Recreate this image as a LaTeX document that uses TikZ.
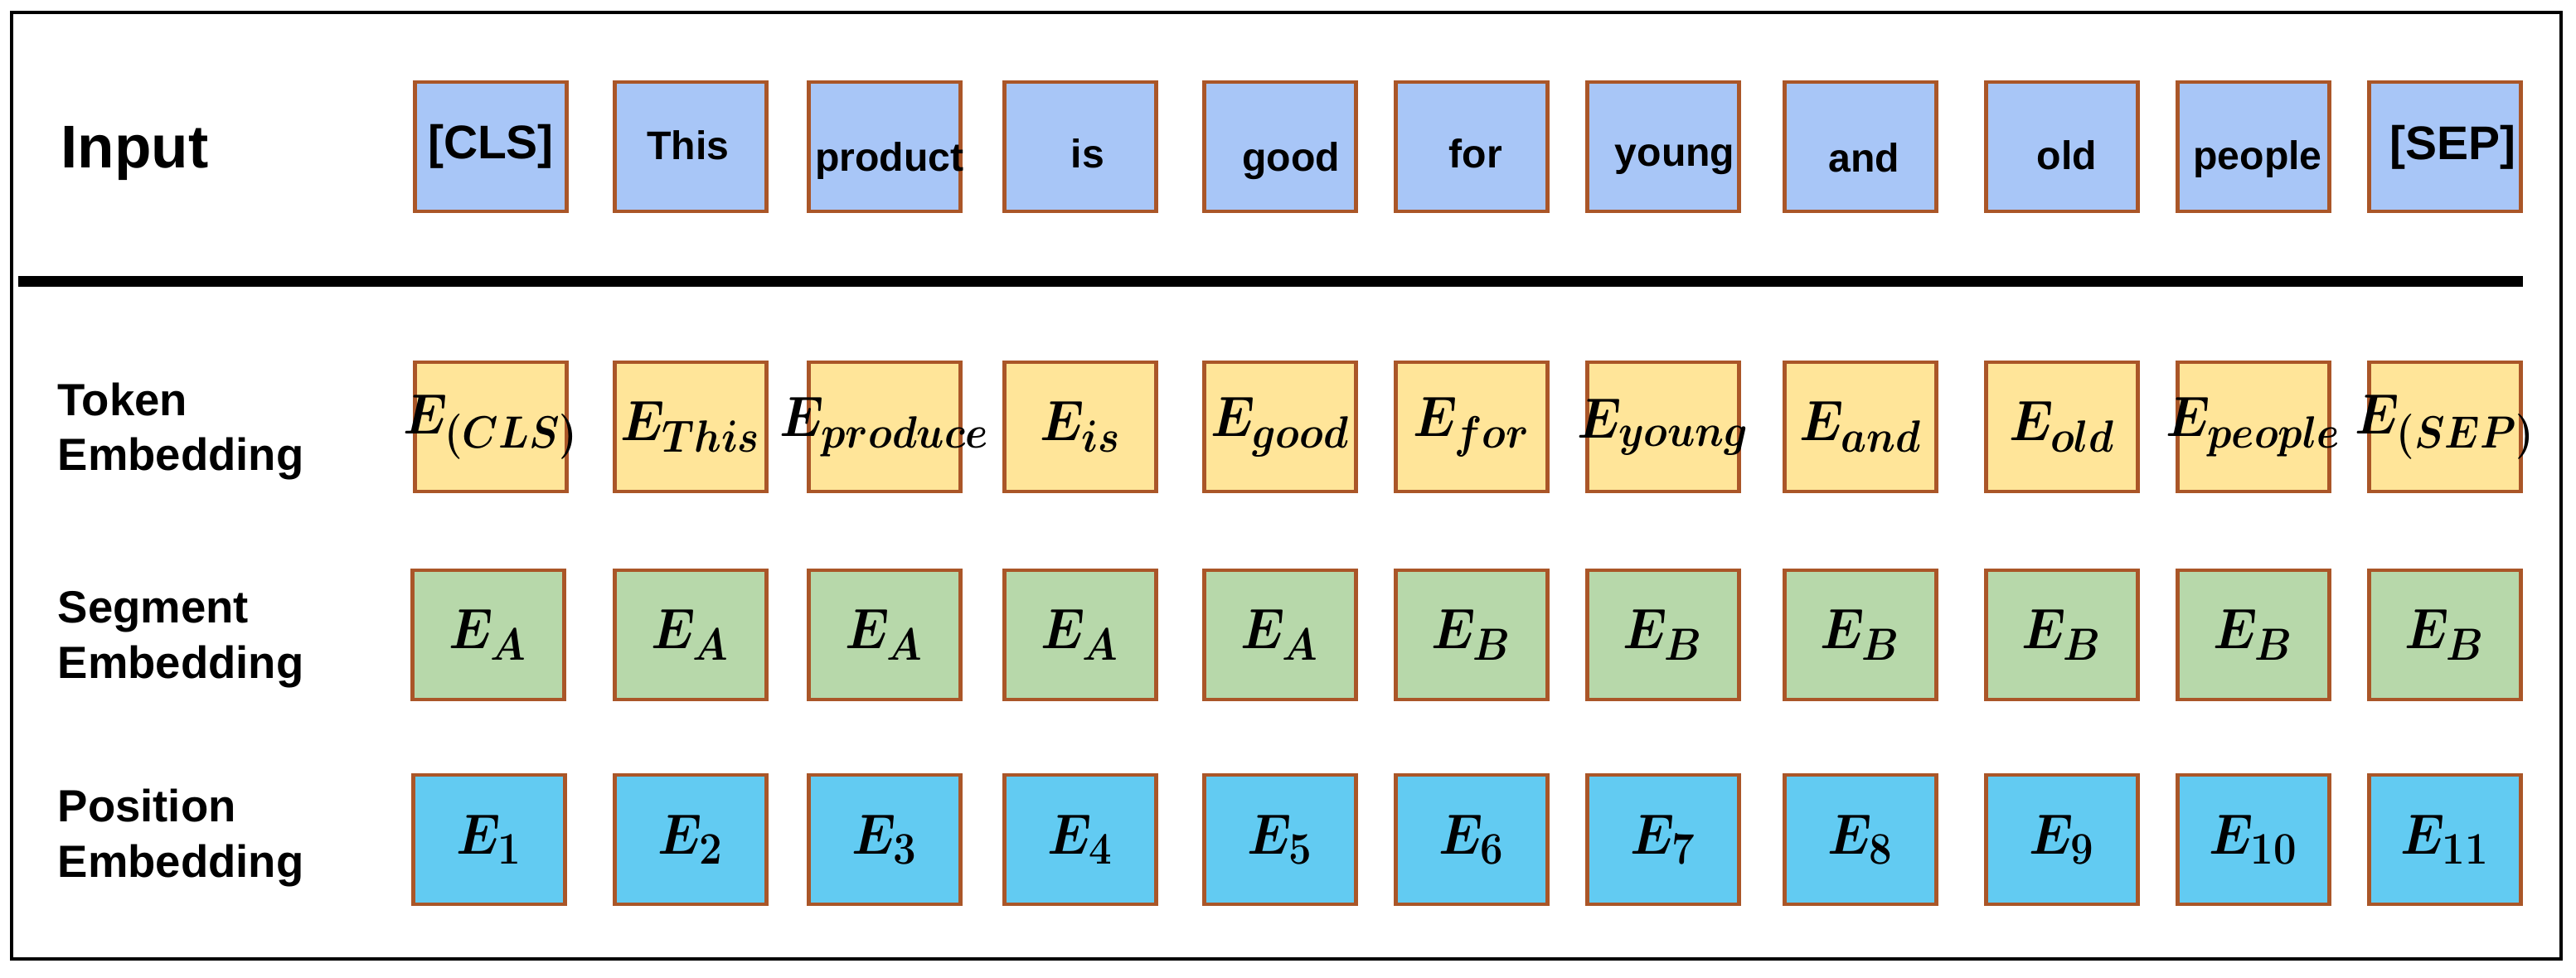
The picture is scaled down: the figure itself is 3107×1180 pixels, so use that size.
\RequirePackage{fix-cm}
\documentclass[tikz,border=0pt]{standalone}
\usepackage[no-math]{fontspec}
\setmainfont{Liberation Sans}
\usepackage{bm}

\definecolor{edgebrown}{RGB}{170,86,40}
\definecolor{inblue}{RGB}{168,198,247}
\definecolor{tokyellow}{RGB}{255,229,153}
\definecolor{seggreen}{RGB}{183,216,170}
\definecolor{posblue}{RGB}{98,203,242}

% E with a large bold subscript, squeezed a little
\newcommand{\embtext}[2]{\scalebox{0.9}[1]{$\bm{#1}_{\mbox{\fontsize{15.5}{16}\selectfont$\bm{#2}$}}$}}

\tikzstyle{cell} = [rectangle, draw=edgebrown, line width=1.2pt, minimum width=1.83cm, minimum height=1.56cm, inner sep=0pt, outer sep=0pt]
\tikzstyle{inbox} = [cell, fill=inblue]
\tikzstyle{tokbox} = [cell, fill=tokyellow]
\tikzstyle{segbox} = [cell, fill=seggreen]
\tikzstyle{posbox} = [cell, fill=posblue]
\tikzstyle{rowlabel} = [anchor=base west, align=left, inner sep=0pt, font=\fontsize{15.5}{18.8}\selectfont\bfseries]
\tikzstyle{word} = [anchor=base, inner sep=0pt]
\tikzstyle{emb} = [inner sep=0pt, font=\fontsize{19.5}{23}\selectfont]

\begin{document}
\begin{tikzpicture}[x=0.01cm, y=-0.01cm]
\useasboundingbox (0,0) rectangle (3107,1180);

% frame and separator
\draw[line width=1.15pt] (14,15) rectangle (3089,1157);
\coordinate (sepL) at (22,340);
\coordinate (sepR) at (3043,340);
\draw[line width=3.7pt] (sepL) -- (sepR);

% row labels (anchored at the baseline of the last line)
\node[rowlabel, font=\fontsize{20.7}{24}\selectfont\bfseries] (lInput) at (73,203) {Input};
\node[rowlabel] (lToken) at (69,568) {Token\\Embedding};
\node[rowlabel] (lSegment) at (69,818) {Segment\\Embedding};
\node[rowlabel] (lPosition) at (69,1058) {Position\\Embedding};

% input row
\foreach \x/\wx/\wy/\s/\w [count=\i] in {592/592/192/16.2/{[CLS]}, 833/830/193/13.7/This,
    1067/1073/207/13.7/product, 1303/1312/203/13.7/is, 1544/1557/207/13.7/good,
    1775/1780/203/13.7/for, 2006/2020/201/13.7/young, 2244/2248/208/13.7/and,
    2487/2493/205/13.7/old, 2718/2723/205/13.7/people, 2949/2958/193/16.2/{[SEP]}} {
  \node[inbox] (in\i) at (\x,177) {};
  \node[word, font=\fontsize{\s}{\s}\selectfont\bfseries] (w\i) at (\wx,\wy) {\w};
}

% token embedding
\foreach \x/\sub [count=\i] in {592/{(CLS)}, 833/This, 1067/produce, 1303/is, 1544/good,
    1775/for, 2006/young, 2244/and, 2487/old, 2718/people, 2949/{(SEP)}} {
  \node[tokbox, label={[emb]center:{\embtext{E}{\sub}}}] (tok\i) at (\x,515) {};
}

% segment embedding
\foreach \x [count=\i] in {589,833,1067,1303,1544,1775,2006,2244,2487,2718,2949} {
  \ifnum\i<6 \def\seg{A}\else\def\seg{B}\fi
  \node[segbox, label={[emb]center:{\embtext{E}{\seg}}}] (seg\i) at (\x,766) {};
}

% position embedding
\foreach \x [count=\i] in {590,833,1067,1303,1544,1775,2006,2244,2487,2718,2949} {
  \node[posbox, label={[emb]center:{\embtext{E}{\i}}}] (pos\i) at (\x,1013) {};
}
\end{tikzpicture}
\end{document}
